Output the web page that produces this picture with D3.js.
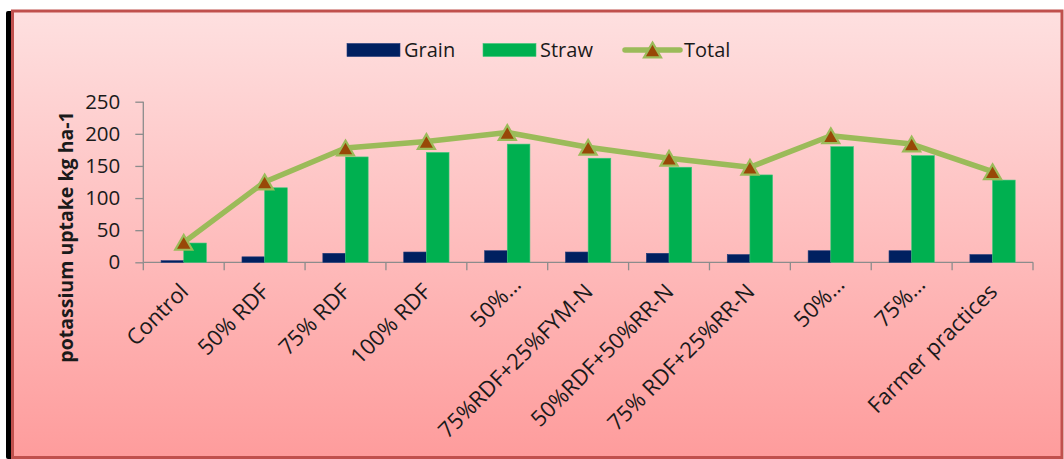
<!DOCTYPE html>
<html>
<head>
<meta charset="utf-8">
<script src="https://cdn.jsdelivr.net/npm/d3@7"></script>
<style>
  html, body { margin: 0; padding: 0; background: #ffffff; }
  svg { display: block; }
  text { font-family: "Open Sans", "Liberation Sans", sans-serif; fill: #1a1a1a; }
</style>
</head>
<body>
<svg id="chart" width="1064" height="459"></svg>
<script>
// Potassium uptake (kg ha-1) by treatment
const categories = [
  "Control", "50% RDF", "75% RDF", "100% RDF", "50%\u2026",
  "75%RDF+25%FYM-N", "50%RDF+50%RR-N", "75% RDF+25%RR-N",
  "50%\u2026", "75%\u2026", "Farmer practices"
];
const grain = [2.5, 8.5, 14, 16, 18, 16, 14, 12, 18, 18, 12];
const straw = [30, 116, 164, 171, 184, 162, 148, 136, 180, 166, 128];
const total = [31, 125, 178, 188, 202, 179, 162, 148, 197, 184, 141];
const yTicks = [0, 50, 100, 150, 200, 250];
const seriesNames = ["Grain", "Straw", "Total"];
const yTitle = "potassium uptake kg ha-1";

const colors = { Grain: "#002060", Straw: "#00b050", line: "#9bbb59", marker: "#984807" };

const svg = d3.select("#chart");
const W = 1064, H = 459;

// Outer frame with gradient fill and dark left shadow
const defs = svg.append("defs");
const grad = defs.append("linearGradient").attr("id", "bg").attr("x1", 0).attr("y1", 0).attr("x2", 0).attr("y2", 1);
grad.append("stop").attr("offset", "0%").attr("stop-color", "#fee0e0");
grad.append("stop").attr("offset", "100%").attr("stop-color", "#fe9c9c");

svg.append("rect").attr("x", 6).attr("y", 11).attr("width", 8).attr("height", H - 11)
  .attr("rx", 2).attr("fill", "#000");
svg.append("rect").attr("x", 12.5).attr("y", 11).attr("width", 1049.5).attr("height", 446.5)
  .attr("fill", "url(#bg)").attr("stroke", "#c0504d").attr("stroke-width", 3);

// Scales
const plot = { left: 143.3, right: 1033, top: 101.7, bottom: 262.3 };
const x = d3.scaleBand().domain(categories.map((c, i) => i)).range([plot.left, plot.right]).padding(0);
const y = d3.scaleLinear().domain([0, 250]).range([plot.bottom, plot.top]);
const barW = x.bandwidth() * 0.28;
const xs = d3.scaleBand().domain(["Grain", "Straw"]).range([0, 2 * barW]).padding(0);
const groupOffset = (x.bandwidth() - 2 * barW) / 2;
const cx = i => x(i) + x.bandwidth() / 2;

// Y axis
const yAxis = svg.append("g").attr("transform", `translate(${plot.left},0)`)
  .call(d3.axisLeft(y).tickValues(yTicks).tickSize(8).tickPadding(15).tickFormat(d3.format("d")));
yAxis.selectAll("path, line").attr("stroke", "#8c8c8c").attr("stroke-width", 1.3);
yAxis.select(".domain").attr("d", `M0,${plot.top}V${plot.bottom}`);
yAxis.selectAll("text").style("font-size", "20.5px").attr("fill", "#1a1a1a");

// X axis line and category tick marks
const xAxis = svg.append("g");
xAxis.append("line").attr("x1", plot.left).attr("x2", plot.right)
  .attr("y1", plot.bottom).attr("y2", plot.bottom).attr("stroke", "#8c8c8c").attr("stroke-width", 1.3);
const bounds = categories.map((c, i) => x(i)).concat([plot.right]);
xAxis.selectAll("line.tick").data(bounds).join("line").attr("class", "tick")
  .attr("x1", d => d).attr("x2", d => d).attr("y1", plot.bottom).attr("y2", plot.bottom + 8)
  .attr("stroke", "#8c8c8c").attr("stroke-width", 1.3);

// Rotated category labels (truncated ones sit a little higher)
xAxis.selectAll("text.cat").data(categories).join("text").attr("class", "cat")
  .attr("text-anchor", "end")
  .style("font-size", "22px")
  .attr("transform", (d, i) => {
    const short = d.endsWith("\u2026");
    const px = cx(i) + (short ? 15 : 6);
    const py = short ? 286 : 293;
    return `translate(${px},${py}) rotate(-45)`;
  })
  .text(d => d);

// Bars
const rows = categories.map((c, i) => ({ i, Grain: grain[i], Straw: straw[i] }));
const groups = svg.append("g").selectAll("g").data(rows).join("g")
  .attr("transform", d => `translate(${x(d.i) + groupOffset},0)`);
groups.selectAll("rect").data(d => ["Grain", "Straw"].map(k => ({ k, v: d[k] }))).join("rect")
  .attr("x", d => xs(d.k))
  .attr("width", xs.bandwidth())
  .attr("y", d => y(d.v))
  .attr("height", d => y(0) - y(d.v))
  .attr("fill", d => colors[d.k])
  .attr("stroke", d => d.k === "Straw" ? "#3cc77a" : "#1f3a7a")
  .attr("stroke-width", 0.6);

// Triangle marker centred on its bounding box (side length from size)
const triangleBox = {
  draw(context, size) {
    const s = Math.sqrt(size), h = s * Math.sqrt(3) / 2;
    context.moveTo(0, -h / 2);
    context.lineTo(s / 2, h / 2);
    context.lineTo(-s / 2, h / 2);
    context.closePath();
  }
};
const tri = d3.symbol().type(triangleBox).size(17 * 17);

// Total line with triangle markers
const line = d3.line().x((d, i) => cx(i)).y(d => y(d));
svg.append("path").datum(total).attr("d", line).attr("fill", "none")
  .attr("stroke", colors.line).attr("stroke-width", 5.5).attr("stroke-linejoin", "round");
svg.append("g").selectAll("path").data(total).join("path")
  .attr("transform", (d, i) => `translate(${cx(i)},${y(d)})`)
  .attr("d", tri).attr("fill", colors.marker).attr("stroke", colors.line).attr("stroke-width", 2.2);

// Y axis title
svg.append("text").attr("transform", "translate(65,237) rotate(-90)")
  .attr("text-anchor", "middle").attr("dominant-baseline", "central")
  .style("font-size", "19.5px").style("font-weight", "bold").text(yTitle);

// Legend
const legend = svg.append("g");
const lg = [
  { name: seriesNames[0], x: 347 },
  { name: seriesNames[1], x: 483 },
  { name: seriesNames[2], x: 625 }
];
lg.forEach((d, k) => {
  if (k < 2) {
    legend.append("rect").attr("x", d.x).attr("y", 43.5).attr("width", 53).attr("height", 13)
      .attr("fill", colors[d.name]).attr("stroke", k === 0 ? "#1f3a7a" : "#3cc77a").attr("stroke-width", 0.6);
    legend.append("text").attr("x", d.x + 57).attr("y", 57).style("font-size", "20px").text(d.name);
  } else {
    legend.append("line").attr("x1", d.x).attr("x2", d.x + 55).attr("y1", 50).attr("y2", 50)
      .attr("stroke", colors.line).attr("stroke-width", 5.5).attr("stroke-linecap", "round");
    legend.append("path").attr("transform", `translate(${d.x + 27.5},50)`).attr("d", tri)
      .attr("fill", colors.marker).attr("stroke", colors.line).attr("stroke-width", 2.2);
    legend.append("text").attr("x", d.x + 59).attr("y", 57).style("font-size", "20px").text(d.name);
  }
});
</script>
</body>
</html>
